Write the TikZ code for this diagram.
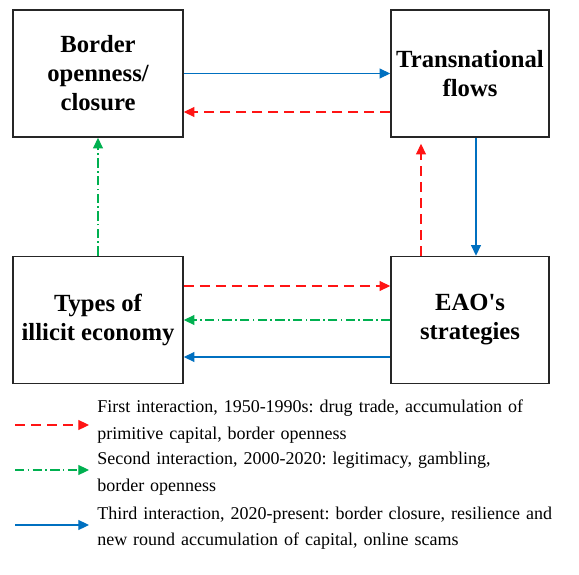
\documentclass[tikz,border=0pt]{standalone}
\usepackage{fontspec}
\setmainfont{Liberation Serif}
\usetikzlibrary{arrows.meta}
\definecolor{phaseOneRed}{RGB}{255, 20, 20}
\definecolor{phaseTwoGreen}{RGB}{0, 176, 80}
\definecolor{phaseThreeBlue}{RGB}{0, 112, 192}

\begin{document}
\begin{tikzpicture}[
  x=0.75pt, y=-0.75pt,
  factor/.style={
    draw=black!85,
    line width=1.2pt,
    minimum height=95.25pt,
    align=center,
    font=\fontsize{18.5}{21.75}\selectfont\bfseries
  },
  first/.style={
    draw=phaseOneRed, line width=0.8pt,
    dash pattern=on 7.5pt off 4.5pt,
    -{Triangle[length=8pt,width=7.5pt]}
  },
  second/.style={
    draw=phaseTwoGreen, line width=0.8pt,
    dash pattern=on 7pt off 2.5pt on 1.2pt off 2.5pt,
    -{Triangle[length=8pt,width=7.5pt]}
  },
  third/.style={
    draw=phaseThreeBlue, line width=0.8pt,
    -{Triangle[length=8pt,width=7.5pt]}
  },
  legend/.style={
    anchor=west,
    text width=370pt,
    align=left,
    inner sep=0pt,
    font=\fontsize{13.5}{20}\selectfont\frenchspacing
  }
]
  \useasboundingbox (0,0) rectangle (579,575);

  \node[factor,minimum width=127.5pt] (border) at (98,73.5)
    {Border\\openness/\\closure};
  \node[factor,minimum width=118.5pt] (flows) at (470,73.5)
    {Transnational\\flows};
  \node[factor,minimum width=127.5pt] (illicit) at (98,320)
    {Types of\\illicit economy};
  \node[factor,minimum width=118.5pt] (strategies) at (470,320)
    {EAO\textquotesingle s\\strategies};

  % top row
  \draw[third] (border.east) -- (flows.west);
  \draw[first] (flows.west |- 0,112) -- (border.east |- 0,112);

  % left and right columns
  \draw[second] (illicit.north) -- (border.south);
  \draw[first] (strategies.north -| 421,0) -- ([yshift=-4.5pt]flows.south -| 421,0);
  \draw[third] (flows.south -| 476,0) -- (strategies.north -| 476,0);

  % bottom row
  \draw[first] (illicit.east |- 0,286) -- (strategies.west |- 0,286);
  \draw[second] (strategies.west) -- (illicit.east);
  \draw[third] (strategies.west |- 0,357) -- (illicit.east |- 0,357);

  % legend
  \node[legend] (firstText) at (97,421.5)
    {First interaction, 1950-1990s: drug trade, accumulation of\\primitive capital, border openness};
  \node[legend] (secondText) at (97,473.5)
    {Second interaction, 2000-2020: legitimacy, gambling,\\border openness};
  \node[legend] (thirdText) at (97,528)
    {Third interaction, 2020-present: border closure, resilience and\\new round accumulation of capital, online scams};
  \coordinate (firstStart) at (15,425);
  \coordinate (secondStart) at (15,470);
  \coordinate (thirdStart) at (15,525);
  \draw[first] (firstStart) -- (firstStart -| 89,0);
  \draw[second] (secondStart) -- (secondStart -| 89,0);
  \draw[third] (thirdStart) -- (thirdStart -| 89,0);
\end{tikzpicture}
\end{document}
